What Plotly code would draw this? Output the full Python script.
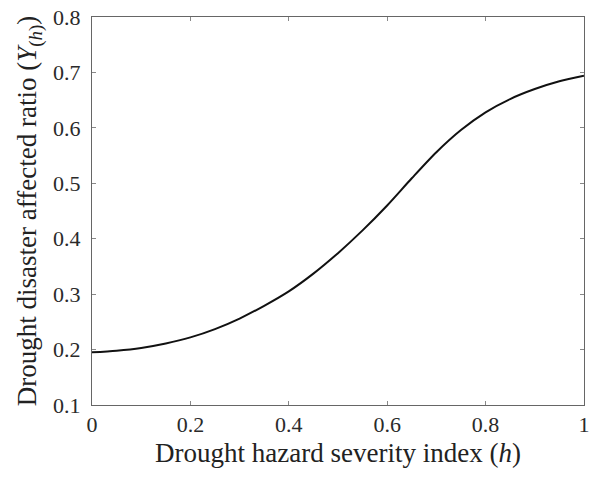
import plotly.graph_objects as go

h_vals = [0, 0.05, 0.1, 0.15, 0.2, 0.25, 0.3, 0.35, 0.4, 0.45, 0.5,
          0.55, 0.6, 0.65, 0.7, 0.75, 0.8, 0.85, 0.9, 0.95, 1.0]
y_vals = [0.195, 0.198, 0.203, 0.211, 0.222, 0.237, 0.256, 0.279, 0.305, 0.337, 0.374,
          0.415, 0.460, 0.509, 0.556, 0.596, 0.628, 0.652, 0.670, 0.684, 0.694]

x_ticks = [0, 0.2, 0.4, 0.6, 0.8, 1]
x_tick_text = ["0", "0.2", "0.4", "0.6", "0.8", "1"]
y_ticks = [0.1, 0.2, 0.3, 0.4, 0.5, 0.6, 0.7, 0.8]
y_tick_text = ["0.1", "0.2", "0.3", "0.4", "0.5", "0.6", "0.7", "0.8"]

font_family = "Liberation Serif, Times New Roman, serif"

fig = go.Figure()
fig.add_trace(go.Scatter(x=h_vals, y=y_vals, mode="lines",
                         line=dict(color="#111111", width=2, shape="spline", smoothing=0.8),
                         showlegend=False))

axis_common = dict(showgrid=False, zeroline=False, showline=True, linecolor="#666666",
                   linewidth=1, mirror="ticks", ticks="inside", ticklen=4,
                   tickcolor="#888888", ticklabeloverflow="allow",
                   tickfont=dict(family=font_family, size=22, color="#2a2a2a"))

fig.update_xaxes(range=[0, 1.0001], tickvals=x_ticks, ticktext=x_tick_text,
                 title=dict(text="Drought hazard severity index (<i>h</i>)",
                            font=dict(family=font_family, size=27, color="#222222"), standoff=6),
                 **axis_common)
fig.update_yaxes(range=[0.1, 0.8], tickvals=y_ticks, ticktext=y_tick_text,
                 ticklabelstandoff=6,
                 title=dict(text="Drought disaster affected ratio (<i>Y</i><sub>(<i>h</i>)</sub>)",
                            font=dict(family=font_family, size=27, color="#222222"), standoff=8),
                 **axis_common)

fig.update_layout(width=593, height=479, margin=dict(l=92, r=4, t=17, b=74),
                  plot_bgcolor="white", paper_bgcolor="white")

fig.write_html("out.html")
